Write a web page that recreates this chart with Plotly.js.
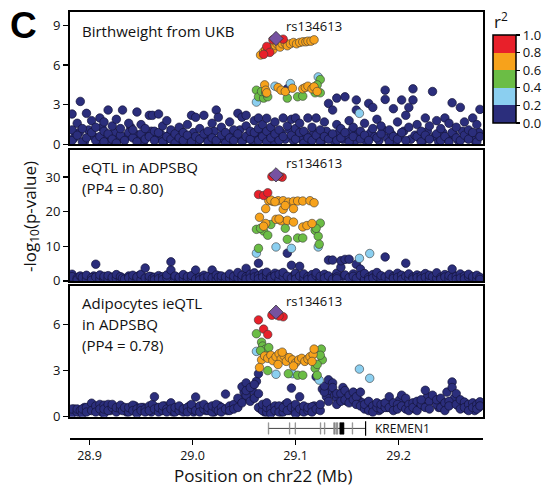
<!DOCTYPE html>
<html><head><meta charset="utf-8">
<script src="https://cdn.plot.ly/plotly-3.0.1.min.js"></script>
<style>html,body{margin:0;padding:0;background:#fff}#chart{width:555px;height:489px}</style>
</head><body><div id="chart"></div>
<script>
// SNP positions (Mb) for background (r2 < 0.2) variants, shared by all three panels
const snpPos = [
28.883,28.883,28.883,28.888,28.888,28.891,28.893,28.893,28.897,28.897,
28.902,28.902,28.906,28.906,28.910,28.910,28.914,28.914,28.914,28.918,
28.918,28.922,28.922,28.926,28.926,28.930,28.930,28.932,28.934,28.938,
28.938,28.942,28.942,28.946,28.946,28.950,28.950,28.954,28.954,28.958,
28.958,28.961,28.963,28.963,28.967,28.967,28.971,28.971,28.975,28.975,
28.979,28.979,28.983,28.983,28.987,28.987,28.991,28.991,28.995,28.995,
28.999,28.999,29.003,29.003,29.007,29.007,29.011,29.011,29.015,29.015,
29.019,29.019,29.023,29.023,29.025,29.028,29.028,29.032,29.032,29.036,
29.036,29.040,29.040,29.044,29.044,29.048,29.048,29.052,29.052,29.052,
29.056,29.056,29.060,29.060,29.064,29.064,29.064,29.068,29.068,29.072,
29.072,29.072,29.076,29.076,29.080,29.080,29.084,29.084,29.088,29.088,
29.092,29.092,29.096,29.096,29.100,29.100,29.100,29.104,29.104,29.108,
29.108,29.112,29.112,29.116,29.116,29.120,29.120,29.124,29.124,29.128,
29.128,29.132,29.132,29.136,29.136,29.140,29.140,29.140,29.144,29.144,
29.148,29.148,29.152,29.152,29.156,29.156,29.159,29.159,29.163,29.163,
29.167,29.167,29.171,29.171,29.175,29.175,29.179,29.179,29.183,29.183,
29.187,29.187,29.191,29.191,29.195,29.195,29.199,29.199,29.203,29.203,
29.207,29.207,29.210,29.210,29.214,29.214,29.218,29.218,29.222,29.222,
29.226,29.226,29.230,29.230,29.233,29.237,29.237,29.241,29.241,29.245,
29.245,29.249,29.249,29.252,29.252,29.256,29.256,29.260,29.260,29.264,
29.264,29.268,29.268,29.272,29.272,29.276,29.276,29.279,29.279];
// -log10(p) of the background variants
const ukbLogP = [
0.3,1.1,2.3,0.7,1.6,3.25,0.2,1.2,0.5,2.35,
0.9,1.8,0.3,1.3,0.6,2.0,0.2,1.0,1.7,0.8,
2.6,0.4,1.4,0.1,1.9,0.7,1.2,2.6,0.3,0.9,
1.6,0.5,1.1,0.2,2.45,0.8,1.5,0.4,1.2,0.6,
2.2,2.2,0.3,1.0,0.9,2.3,0.2,1.4,0.6,1.8,
0.4,1.1,0.1,0.8,0.5,1.3,0.3,0.9,0.7,1.5,
0.2,2.2,0.6,2.05,0.4,1.2,0.8,2.2,0.2,1.0,
0.5,1.6,0.3,2.6,2.05,0.7,1.3,0.1,0.9,0.5,
1.7,0.3,1.1,0.8,2.35,0.2,2.06,0.6,2.2,1.4,
0.4,1.0,0.9,1.8,0.3,2.0,1.2,0.6,1.5,0.2,
1.98,1.0,0.5,1.3,0.8,1.7,0.3,1.1,0.6,2.0,
4.2,1.4,0.7,1.9,0.4,1.2,2.0,0.9,1.6,0.1,
1.0,0.5,2.0,0.3,1.3,0.7,2.0,0.2,1.1,0.6,
1.7,0.4,3.1,0.8,2.6,0.3,1.5,3.5,0.5,1.2,
0.9,3.6,0.2,1.8,0.6,1.3,3.36,2.6,0.4,1.0,
0.7,1.6,3.1,0.3,1.2,2.8,0.5,1.9,0.8,1.4,
4.1,3.4,0.2,1.1,0.6,2.7,0.4,1.7,3.36,0.9,
0.3,2.2,2.8,1.3,4.2,3.36,0.6,1.5,0.2,1.0,
2.0,0.7,0.4,1.4,4.0,0.8,1.8,0.3,1.2,0.6,
2.0,0.2,1.6,3.15,0.9,0.5,1.3,2.8,0.3,0.7,
1.7,0.4,1.1,0.9,2.0,0.2,1.5,2.65,0.6];
const eqtlLogP = [
1.9,0.5,1.2,0.8,0.3,1.4,0.6,1.0,0.4,1.6,
0.9,0.2,4.8,1.1,0.5,1.7,0.3,0.9,1.3,0.6,
1.5,0.4,1.0,0.7,1.8,0.3,1.2,0.8,0.5,1.4,
0.9,0.3,1.6,0.6,1.1,0.4,1.9,3.7,0.8,0.5,
1.3,0.7,1.0,0.3,1.5,0.6,1.2,0.4,0.9,1.7,
5.5,3.1,0.6,1.4,0.3,1.0,0.7,1.8,0.4,1.2,
0.8,1.5,3.1,0.5,1.1,0.3,1.6,0.8,0.5,1.3,
3.1,0.9,0.4,1.7,1.0,0.6,1.4,0.3,1.1,0.7,
2.0,0.5,1.3,0.9,2.4,0.6,1.6,3.6,1.2,0.5,
1.9,0.8,2.3,1.1,5.1,1.5,0.6,2.1,1.0,0.4,
1.7,2.5,1.2,0.7,2.2,1.4,0.5,1.9,1.1,2.4,
8.0,1.3,4.5,0.8,1.6,2.2,0.5,4.2,1.4,0.9,
2.0,1.2,0.4,1.8,0.7,1.5,2.3,0.6,1.3,1.9,
0.8,6.0,1.4,6.0,0.5,2.2,1.1,0.6,3.9,5.8,
6.2,1.7,6.25,0.9,2.0,1.3,4.8,0.7,3.4,1.6,
0.5,2.1,1.0,0.4,1.8,0.8,1.3,2.4,0.6,1.5,
1.1,6.9,0.5,1.9,1.2,0.7,2.2,1.0,1.6,0.4,
5.1,1.3,0.8,2.0,1.1,0.5,1.7,0.9,1.4,0.6,
2.1,1.0,0.4,1.6,1.2,0.7,2.3,1.0,0.5,1.8,
1.1,0.6,1.5,3.4,0.9,1.3,0.4,2.0,0.8,1.4,
0.6,1.1,1.9,0.7,1.2,0.5,1.6,1.0,0.4];
const ieqtlLogP = [
0.4,0.2,0.5,0.3,0.5,0.4,0.2,0.5,0.6,0.3,
0.88,0.4,0.7,0.3,0.8,0.5,0.2,0.75,0.5,0.8,
0.4,0.6,0.8,0.3,0.6,0.5,0.75,0.4,0.6,0.3,
0.6,0.75,0.4,0.5,0.2,0.6,0.4,0.5,0.3,0.7,
0.4,0.8,1.3,0.5,0.3,0.6,0.4,0.7,0.5,0.3,
0.9,0.5,0.3,0.6,0.4,0.7,0.3,0.5,0.6,0.3,
0.5,0.8,1.28,0.4,0.7,0.3,0.5,0.8,0.4,0.6,
0.3,0.7,0.5,0.8,0.4,0.6,0.3,1.47,0.5,0.7,
0.4,0.8,0.5,1.2,0.6,1.95,0.9,2.2,1.4,1.7,
1.0,1.9,2.1,1.2,2.8,1.5,0.6,0.4,0.8,0.3,
0.6,0.9,0.5,0.2,0.7,0.4,0.7,0.3,0.3,0.6,
0.9,0.4,1.86,0.6,0.5,0.2,0.8,1.3,0.5,0.3,
0.7,0.4,0.6,0.65,0.3,0.5,2.6,0.4,0.8,1.6,
2.0,2.4,1.0,2.2,1.9,1.2,1.5,0.8,1.5,1.0,
1.7,1.1,1.4,0.9,1.6,1.1,1.3,0.8,1.6,0.7,
0.5,0.8,1.0,0.4,0.7,0.3,0.6,0.9,0.5,0.8,
0.6,0.9,1.3,0.6,0.9,0.4,0.8,0.5,1.4,0.7,
1.2,0.5,0.8,0.4,0.9,0.6,1.0,0.4,0.8,1.1,
1.72,0.6,1.0,0.5,1.4,0.8,1.1,1.2,0.6,0.9,
0.4,1.0,0.7,2.26,1.9,1.5,0.8,1.1,0.5,0.95,
0.6,0.8,0.4,0.9,0.6,0.8,0.5,0.97,0.7];

// More low-signal background variants (dense bottom band)
const extraPos = [
28.885,28.890,28.895,28.899,28.904,28.908,28.912,28.916,28.920,28.924,
28.928,28.936,28.940,28.944,28.948,28.952,28.956,28.960,28.965,28.969,
28.973,28.977,28.981,28.985,28.989,28.993,28.997,29.001,29.005,29.009,
29.013,29.017,29.021,29.026,29.030,29.034,29.038,29.042,29.046,29.050,
29.054,29.058,29.062,29.066,29.070,29.074,29.078,29.082,29.086,29.090,
29.094,29.098,29.102,29.106,29.110,29.114,29.118,29.122,29.126,29.130,
29.134,29.138,29.142,29.146,29.150,29.154,29.158,29.161,29.165,29.169,
29.173,29.177,29.181,29.185,29.189,29.193,29.197,29.201,29.205,29.212,
29.216,29.220,29.224,29.228,29.235,29.239,29.243,29.247,29.254,29.258,
29.262,29.266,29.270,29.274,29.278];
const ukbExtraLogP = [
0.5,0.9,0.2,1.1,0.6,0.3,1.3,0.5,0.2,0.9,
0.4,0.6,1.3,0.8,0.3,0.1,0.7,1.0,0.5,0.8,
0.3,0.7,0.5,0.2,1.0,0.5,0.3,0.9,0.2,0.5,
0.6,0.3,1.0,0.4,0.5,0.2,0.8,0.6,1.1,0.4,
0.7,0.3,0.6,0.9,0.4,0.6,0.2,0.5,0.9,0.4,
1.1,0.3,0.6,0.4,0.8,0.2,0.9,0.5,0.3,1.0,
0.6,0.2,0.9,0.4,0.7,1.0,0.3,0.8,0.5,0.2,
0.9,0.6,0.3,1.1,0.5,0.8,0.2,0.6,1.0,0.4,
0.7,0.5,0.3,1.0,0.6,0.2,0.9,0.4,0.7,0.3,
1.0,0.5,0.7,0.3,0.9];
const eqtlExtraLogP = [
0.6,1.2,0.3,0.8,1.4,0.5,0.9,0.2,1.1,0.7,
1.3,0.4,0.9,0.6,1.5,0.2,0.8,1.2,0.5,1.0,
0.3,1.4,0.7,0.9,0.4,1.1,0.6,1.6,0.3,0.8,
1.2,0.5,0.9,1.4,0.2,1.0,0.7,1.3,0.5,0.9,
1.6,0.4,1.2,0.7,1.0,0.3,1.4,0.8,0.5,1.1,
0.7,1.5,0.4,0.9,1.2,0.6,1.0,0.3,1.3,0.8,
0.5,1.1,0.7,1.4,0.4,0.9,1.2,0.6,1.0,0.3,
1.3,0.7,1.1,0.5,0.9,1.4,0.4,1.0,0.7,1.2,
0.5,0.9,1.3,0.6,1.0,0.4,1.2,0.8,1.5,0.5,
0.9,1.2,0.6,1.0,0.4];
const ieqtlExtraLogP = [
0.5,0.3,0.6,0.4,0.5,0.6,0.3,0.7,0.4,0.5,
0.6,0.3,0.5,0.7,0.4,0.6,0.5,0.3,0.6,0.4,
0.7,0.5,0.3,0.6,0.4,0.5,0.7,0.3,0.6,0.5,
0.4,0.6,0.3,0.7,0.5,0.4,0.6,0.8,1.1,1.6,
1.2,1.7,2.3,0.5,0.3,0.6,0.4,0.5,0.3,0.8,
0.4,0.7,0.3,0.6,0.5,0.4,0.7,0.5,1.8,1.3,
1.7,1.4,1.2,1.9,1.0,1.3,1.5,1.1,0.9,0.6,
0.5,0.7,0.4,0.8,0.6,0.9,0.5,1.1,0.7,0.6,
0.5,0.9,0.7,1.3,1.1,0.6,0.9,1.6,1.2,0.7,
0.8,0.5,0.7,0.4,0.6];

// Lead SNP rs134613
const leadPos = [29.081];
const ukbLeadY = [8.0], eqtlLeadY = [30.7], ieqtlLeadY = [6.8];

// Panel 1: Birthweight from UKB, LD bins
const ukbRedX = [29.088,29.078,29.072,29.075,29.069];
const ukbRedY = [7.95,7.9,7.4,6.95,6.8];
const ukbOrangeX = [29.066,29.069,29.071,29.073,29.076,29.078,29.080,29.082,29.085,29.087,29.090,29.092,29.095,29.098,29.101,29.104,29.107,29.110,29.112,29.115,29.118,
  29.070,29.071,29.072,29.083,29.086,29.090,29.097,29.107,29.1095,29.112,29.116,29.118,29.121];
const ukbOrangeY = [6.75,7.0,7.15,7.2,7.35,7.15,7.5,7.6,7.35,7.6,7.65,7.45,7.6,7.7,7.6,7.7,7.75,7.75,7.8,7.8,7.9,
  4.5,4.1,3.9,4.3,4.1,4.0,4.25,4.2,4.3,4.4,4.2,4.35,4.0];
const ukbGreenX = [29.062,29.064,29.069,29.073,29.067,29.071,29.092,29.102,29.107,29.119,29.124,29.124,29.121];
const ukbGreenY = [4.1,3.6,3.5,3.6,4.0,3.9,3.5,3.6,3.65,3.9,3.9,4.9,4.5];
const ukbBlueX = [29.062,29.080,29.095,29.122,29.162];
const ukbBlueY = [3.2,4.4,4.6,5.1,2.35];

// Panel 2: eQTL in ADPSBQ
const eqtlRedX = [29.064,29.069,29.073,29.087,29.077,29.084];
const eqtlRedY = [25.0,24.7,25.5,30.0,30.2,30.3];
const eqtlOrangeX = [29.074,29.078,29.083,29.088,29.093,29.098,29.102,29.107,29.114,29.118,29.071,29.088,29.098,29.090,29.065,29.081,29.086,29.092,29.098,29.107,29.111,29.116,29.071,29.069,29.084,29.076,29.080];
const eqtlOrangeY = [23.2,23.0,23.2,23.2,22.8,23.0,23.1,23.1,23.2,22.6,20.9,20.7,20.9,21.8,18.4,17.8,17.4,17.5,17.0,15.6,16.0,16.6,16.6,15.8,17.9,23.4,22.9];
const eqtlGreenX = [29.064,29.062,29.069,29.073,29.076,29.090,29.092,29.102,29.107,29.119,29.124,29.122,29.123,29.120,29.066];
const eqtlGreenY = [9.4,14.9,14.4,13.2,16.3,15.2,12.0,12.4,12.4,14.6,16.7,12.9,10.6,15.2,15.2];
const eqtlBlueX = [29.081,29.096,29.062,29.162,29.172,29.122];
const eqtlBlueY = [9.8,9.4,8.0,6.5,7.9,9.8];

// Panel 3: Adipocytes ieQTL in ADPSBQ
const ieqtlRedX = [29.088,29.077,29.084,29.064,29.069,29.073];
const ieqtlRedY = [6.5,6.6,6.55,6.3,5.7,5.35];
const ieqtlOrangeX = [29.067,29.070,29.073,29.076,29.078,29.081,29.084,29.086,29.089,29.091,29.094,29.097,29.100,29.103,29.106,29.109,29.112,29.114,29.117,29.118,29.116,29.065,29.083,29.087,29.098];
const ieqtlOrangeY = [3.7,3.95,3.8,4.0,3.65,3.9,4.1,3.75,3.95,3.6,3.85,3.7,3.5,3.7,3.8,3.6,3.75,3.9,4.05,4.4,3.6,3.2,3.4,4.2,3.3];
const ieqtlGreenX = [29.062,29.067,29.068,29.071,29.074,29.066,29.125,29.126,29.073,29.093,29.102,29.107,29.119,29.121,29.124,29.121];
const ieqtlGreenY = [5.4,4.85,4.6,4.4,4.5,4.3,4.4,3.7,3.0,2.8,2.7,2.7,3.15,2.7,4.0,3.4];
const ieqtlBlueX = [29.062,29.081,29.097,29.123,29.162,29.172];
const ieqtlBlueY = [4.25,2.76,2.8,2.38,3.1,2.5];

// Gene track
const geneName = 'KREMEN1';
const geneStart = 29.0735, geneEnd = 29.168;
const exonStarts = [29.0735,29.094,29.0995,29.124,29.128,29.137,29.1395,29.143,29.155];
const exonEnds   = [29.0740,29.0945,29.1000,29.1245,29.1285,29.1385,29.141,29.147,29.1555];

// Axis ticks
const xTicks = [28.9, 29.0, 29.1, 29.2];
const xTickText = ['28.9','29.0','29.1','29.2'];
const r2Ticks = [0, 0.2, 0.4, 0.6, 0.8, 1.0];
const r2TickText = ['0.0','0.2','0.4','0.6','0.8','1.0'];
const panelTitles = [['Birthweight from UKB'], ['eQTL in ADPSBQ','(PP4 = 0.80)'], ['Adipocytes ieQTL','in ADPSBQ','(PP4 = 0.78)']];
const leadName = 'rs134613';

const C = {navy:'#2B2E7C', blue:'#8BCFF0', green:'#6BBD45', orange:'#F7A21B', red:'#E8202A', lead:'#7652A1'};
const FONT = 'Open Sans, Noto Sans, sans-serif';
const XR = [28.881, 29.282];

function pts(x, y, ax, color, opts) {
  opts = opts || {};
  return {type:'scatter', mode:'markers', x:x, y:y, xaxis:'x'+ax, yaxis:'y'+ax, hoverinfo:'skip', showlegend:false,
    marker:{color:color, size:opts.size||8.5, symbol:opts.symbol||'circle', line:{color:opts.lc||'#3a3a3a', width:opts.lw||0.6}}};
}
const panels = [
  {ax:'', y:ukbLogP, ey:ukbExtraLogP, lead:ukbLeadY, bx:ukbBlueX, by:ukbBlueY, gx:ukbGreenX, gy:ukbGreenY, ox:ukbOrangeX, oy:ukbOrangeY, rx:ukbRedX, ry:ukbRedY},
  {ax:'2', y:eqtlLogP, ey:eqtlExtraLogP, lead:eqtlLeadY, bx:eqtlBlueX, by:eqtlBlueY, gx:eqtlGreenX, gy:eqtlGreenY, ox:eqtlOrangeX, oy:eqtlOrangeY, rx:eqtlRedX, ry:eqtlRedY},
  {ax:'3', y:ieqtlLogP, ey:ieqtlExtraLogP, lead:ieqtlLeadY, bx:ieqtlBlueX, by:ieqtlBlueY, gx:ieqtlGreenX, gy:ieqtlGreenY, ox:ieqtlOrangeX, oy:ieqtlOrangeY, rx:ieqtlRedX, ry:ieqtlRedY}
];
const traces = [];
panels.forEach(p => {
  traces.push(pts(extraPos, p.ey, p.ax, C.navy, {lc:'#14143a', lw:0.7}));
  traces.push(pts(snpPos, p.y, p.ax, C.navy, {lc:'#14143a', lw:0.7}));
  traces.push(pts(p.bx, p.by, p.ax, C.blue));
  traces.push(pts(p.gx, p.gy, p.ax, C.green));
  traces.push(pts(p.ox, p.oy, p.ax, C.orange));
  traces.push(pts(p.rx, p.ry, p.ax, C.red));
  traces.push(pts(leadPos, p.lead, p.ax, C.lead, {symbol:'diamond', size:11, lc:'#333', lw:0.8}));
});
// colour key (r2 scale)
const cs = [[0,C.navy],[0.2,C.navy],[0.2,C.blue],[0.4,C.blue],[0.4,C.green],[0.6,C.green],[0.6,C.orange],[0.8,C.orange],[0.8,C.red],[1,C.red]];
traces.push({type:'scatter', mode:'markers', x:[XR[0],XR[0]], y:[-5,-5], xaxis:'x4', yaxis:'y4', hoverinfo:'skip', showlegend:false,
  marker:{size:1, color:[0,1], cmin:0, cmax:1, colorscale:cs, showscale:true,
    colorbar:{x:1.0238, xanchor:'left', xpad:0, y:0.8426, yanchor:'middle', ypad:0, thickness:23, thicknessmode:'pixels',
      len:88, lenmode:'pixels', outlinewidth:1.5, outlinecolor:'#000', tickvals:r2Ticks, ticktext:r2TickText,
      ticks:'outside', ticklen:4, tickwidth:1.2, tickcolor:'#000', tickfont:{family:FONT, size:13, color:'#111'}}}});

const frameAx = (extra) => Object.assign({showline:true, mirror:true, linewidth:2, linecolor:'#000', showgrid:false, zeroline:false, fixedrange:true}, extra);
const xPanel = (anchor) => frameAx({anchor:anchor, range:XR, showticklabels:false, ticks:''});
const yPanel = (anchor, dom, range, tv) => frameAx({anchor:anchor, domain:dom, range:range, tickvals:tv, ticks:'outside', ticklen:5, tickwidth:1.5, tickcolor:'#000', tickfont:{family:FONT, size:13, color:'#111'}});

const shapes = [];
shapes.push({type:'line', xref:'x4', yref:'y4', x0:geneStart, x1:geneEnd, y0:0.5, y1:0.5, line:{color:'#444', width:1}});
exonStarts.forEach((s,i) => {
  const wide = exonEnds[i]-s > 0.003;
  shapes.push({type:'rect', xref:'x4', yref:'y4', x0:s, x1:exonEnds[i], y0:0.2, y1:0.8, fillcolor: wide ? '#000' : '#888', line:{color: wide ? '#000' : '#888', width:0.6}});
});
shapes.push({type:'line', xref:'x4', yref:'y4', x0:geneEnd, x1:geneEnd, y0:0.12, y1:0.88, line:{color:'#000', width:1.2}});

const ann = [];
const txt = (o) => Object.assign({showarrow:false, font:{family:FONT, size:15, color:'#111'}}, o);
ann.push(txt({text:'<b>C</b>', xref:'paper', yref:'paper', x:-0.113, y:0.968, xanchor:'center', yanchor:'middle', font:{family:'Liberation Sans, Arial, sans-serif', size:37, color:'#000'}}));
const titleY = [[0.9547],[0.6357,0.5864],[0.3167,0.2674,0.2182]];
panelTitles.forEach((lines,pi) => lines.forEach((t,li) => ann.push(txt({text:t, xref:'paper', yref:'paper', x:0.0238, y:titleY[pi][li], xanchor:'left', yanchor:'middle'}))));
const leadLabelY = [8.96, 34.2, 7.55];
['', '2', '3'].forEach((a,i) => ann.push(txt({text:leadName, xref:'x'+a, yref:'y'+a, x:29.0885, y:leadLabelY[i], xanchor:'left', yanchor:'middle', font:{family:FONT, size:13, color:'#111'}})));
ann.push(txt({text:'-log<sub>10</sub>(p-value)', xref:'paper', yref:'paper', x:-0.0974, y:0.5208, textangle:-90, xanchor:'center', yanchor:'middle', font:{family:FONT, size:17, color:'#111'}}));
ann.push(txt({text:'Position on chr22 (Mb)', xref:'paper', yref:'paper', x:0.468, y:-0.0891, xanchor:'center', yanchor:'middle', font:{family:FONT, size:17, color:'#111'}}));
ann.push(txt({text:'r<sup>2</sup>', xref:'paper', yref:'paper', x:1.0428, y:0.9805, xanchor:'center', yanchor:'middle', font:{family:FONT, size:17, color:'#111'}}));
ann.push(txt({text:geneName, xref:'x4', yref:'y4', x:29.1755, y:0.5, xanchor:'left', yanchor:'middle', font:{family:FONT, size:12, color:'#111'}}));

const layout = {
  width:555, height:489, margin:{l:70, r:64, t:12, b:51}, paper_bgcolor:'#fff', plot_bgcolor:'#fff', showlegend:false,
  xaxis: xPanel('y'), yaxis: yPanel('x', [0.689, 1.0], [0, 10], [0,3,6,9]),
  xaxis2: xPanel('y2'), yaxis2: yPanel('x2', [0.369, 0.677], [0, 38], [0,10,20,30]),
  xaxis3: xPanel('y3'), yaxis3: yPanel('x3', [0.05, 0.3566], [0, 8.5], [0,3,6]),
  xaxis4: {anchor:'y4', range:XR, showline:true, linewidth:2, linecolor:'#000', showgrid:false, zeroline:false, ticks:'outside', ticklen:5, tickwidth:1.5, tickcolor:'#000',
    tickvals:xTicks, ticktext:xTickText, tickfont:{family:FONT, size:12.5, color:'#111'}, fixedrange:true},
  yaxis4: {anchor:'x4', domain:[0, 0.045], range:[0,1], visible:false, fixedrange:true},
  shapes: shapes, annotations: ann
};
Plotly.newPlot('chart', traces, layout, {displayModeBar:false, staticPlot:true});
</script></body></html>
